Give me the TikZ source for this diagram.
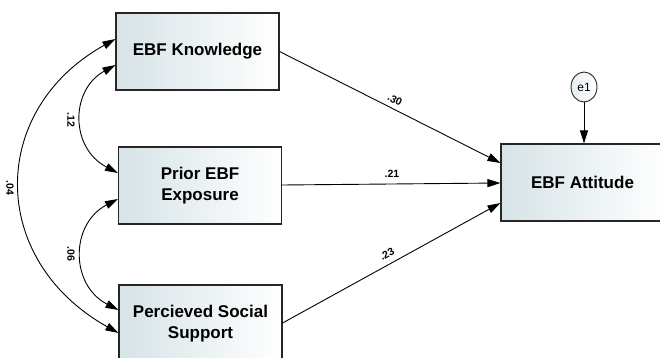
\documentclass[tikz,border=0pt]{standalone}
\usepackage{fontspec}
\setmainfont{Liberation Sans}
\usetikzlibrary{arrows.meta,calc,shapes.geometric}
\definecolor{boxleft}{HTML}{D6E3E7}
\tikzset{
  var/.style={draw=black!85, line width=1.1pt, minimum width=163pt, minimum height=77pt,
    left color=boxleft, right color=white, inner sep=0pt, align=center,
    font=\fontsize{17}{21}\selectfont\bfseries},
  err/.style={draw=black!85, line width=0.9pt, ellipse, minimum width=26pt, minimum height=30pt,
    left color=boxleft!60, right color=white, inner sep=0pt, font=\fontsize{12}{14}\selectfont},
  path/.style={line width=0.9pt, -{Triangle[length=13pt,width=8pt]}},
  cov/.style={line width=0.9pt, {Triangle[length=13pt,width=8pt]}-{Triangle[length=13pt,width=8pt]}},
  lab/.style={font=\fontsize{10.5}{12}\selectfont\bfseries, inner sep=0pt}
}
\begin{document}
\begin{tikzpicture}[x=1pt,y=-1pt]
\useasboundingbox (0,0) rectangle (660,358);
\node[var] (kn) at (197.5,51.5) {EBF Knowledge};
\node[var] (ex) at (200,185.5) {Prior EBF\\Exposure};
\node[var] (su) at (200.5,323.5) {Percieved Social\\Support};
\node[var] (at) at (582.5,182.5) {EBF Attitude};
\node[err] (e1) at (584,87) {e1};

\draw[path] (kn.east) -- ($(at.west)+(0,-19.5)$);
\draw[path] ($(ex.east)+(0,-0.5)$) -- ($(at.west)+(0,0.5)$);
\draw[path] ($(su.east)+(0,-0.5)$) -- ($(at.west)+(0,20.5)$);
\draw[path] (e1.south) -- (at.north -| e1.south);

\draw[cov] ($(kn.west)+(0,13.5)$) .. controls (70,90) and (70,148) .. ($(ex.west)+(0,-12.5)$);
\draw[cov] ($(ex.west)+(0,13.5)$) .. controls (70,224) and (70,285) .. ($(su.west)+(0,-13.5)$);
\draw[cov] ($(kn.west)+(0,-12.5)$) .. controls (-12,110) and (-12,260) .. ($(su.west)+(0,9.5)$);

\node[lab, rotate=-26.5] (l30) at (395,100) {.30};
\node[lab] (l21) at (392,174) {.21};
\node[lab, rotate=28.6] (l23) at (387,254) {.23};
\node[lab, rotate=-90] (l12) at (71,120) {.12};
\node[lab, rotate=-90] (l06) at (71,254) {.06};
\node[lab, rotate=-90] (l04) at (10,188) {.04};
\end{tikzpicture}
\end{document}
